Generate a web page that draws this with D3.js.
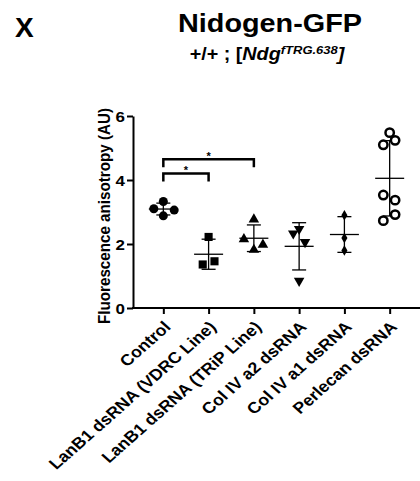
<!DOCTYPE html>
<html>
<head>
<meta charset="utf-8">
<script src="https://cdn.jsdelivr.net/npm/d3@7.9.0/dist/d3.min.js"></script>
<style>
  body { margin: 0; background: #fff; }
  svg { display: block; font-family: "Liberation Sans", Arial, sans-serif; }
</style>
</head>
<body>
<svg id="chart" width="420" height="481"></svg>
<script>
const categories = ['Control', 'LanB1 dsRNA (VDRC Line)', 'LanB1 dsRNA (TRiP Line)',
  'Col IV a2 dsRNA', 'Col IV a1 dsRNA', 'Perlecan dsRNA'];

const control = [3.10, 3.33, 3.06, 2.88];
const lanVdrc = [2.22, 1.36, 1.46];
const lanTrip = [2.77, 2.15, 1.98, 1.82];
const colA2 = [2.47, 2.33, 2.06, 0.85];
const colA1 = [2.90, 2.19, 1.80];
const perlecan = [5.48, 5.10, 5.24, 3.53, 3.37, 2.73, 2.92];

// small horizontal jitter of each point, in units of the category step
const jitter = [
  [-0.21, 0, 0.24, 0],
  [0, -0.13, 0.13],
  [0, -0.22, 0.2, 0],
  [0, -0.13, 0.13, 0],
  [0, 0, 0],
  [0, -0.14, 0.12, -0.14, 0.12, -0.14, 0.12]
];

const series = [control, lanVdrc, lanTrip, colA2, colA1, perlecan];
const symbols = ['circle', 'square', 'triangle', 'triangleDown', 'diamond', 'openCircle'];

const yTicks = [0, 2, 4, 6];
const brackets = [
  { from: 0, to: 1, level: 4.2, label: '*' },
  { from: 0, to: 2, level: 4.65, label: '*' }
];

// the figure is a little wider than tall, text is stretched the same way
const sx = 1.13;
const font = '"Liberation Sans", Arial, sans-serif';

const svg = d3.select('#chart');

const x = d3.scalePoint().domain(categories).range([133, 420]).padding(0.67);
const y = d3.scaleLinear().domain([0, 6]).range([308, 116]);

// titles
svg.append('text').attr('x', 15).attr('y', 37)
  .attr('font-size', 28).attr('font-weight', 'bold').text('X');

svg.append('text').attr('transform', `translate(270,32) scale(${sx},1)`)
  .attr('text-anchor', 'middle')
  .attr('font-size', 25.5).attr('font-weight', 'bold').text('Nidogen-GFP');

const sub = svg.append('text').attr('transform', `translate(267,60) scale(${sx},1)`)
  .attr('text-anchor', 'middle')
  .attr('font-size', 17.5).attr('font-weight', 'bold');
sub.append('tspan').text('+/+ ; [');
sub.append('tspan').attr('font-style', 'italic').text('Ndg');
sub.append('tspan').attr('font-style', 'italic').attr('font-size', 11.5).attr('dy', -6.5).text('fTRG.638');
sub.append('tspan').attr('font-style', 'italic').attr('dy', 6.5).text(']');

// axes
const yAxis = svg.append('g').attr('transform', 'translate(133,0)')
  .call(d3.axisLeft(y).tickValues(yTicks).tickFormat(d3.format('d'))
    .tickSize(6).tickSizeOuter(0));
yAxis.selectAll('text')
  .attr('x', null).attr('dy', null)
  .attr('transform', `translate(-8,5.5) scale(${sx},1)`)
  .attr('font-size', 15).attr('font-weight', 'bold').attr('fill', '#000')
  .attr('font-family', font);

const xAxis = svg.append('g').attr('transform', 'translate(0,308)')
  .call(d3.axisBottom(x).tickSize(6).tickSizeOuter(0).tickFormat(''));

svg.selectAll('.domain, .tick line').attr('stroke', '#000').attr('stroke-width', 2);
xAxis.select('.domain').attr('d', 'M132,0H420');

xAxis.selectAll('.tick').append('text')
  .attr('transform', `translate(8,20) scale(${sx},1) rotate(-45)`)
  .attr('text-anchor', 'end')
  .attr('font-size', 15.8).attr('font-weight', 'bold').attr('fill', '#000')
  .attr('font-family', font)
  .text(d => d);

svg.append('text')
  .attr('transform', `translate(110,${(y(0) + y(6)) / 2 + 4}) scale(${sx},1) rotate(-90)`)
  .attr('text-anchor', 'middle').attr('font-size', 15.2).attr('font-weight', 'bold')
  .text('Fluorescence anisotropy (AU)');

// mean and SD
const step = x.step();
series.forEach((vals, i) => {
  const cx = x(categories[i]);
  const m = d3.mean(vals), s = d3.deviation(vals);
  const g = svg.append('g').attr('stroke', '#000').attr('stroke-width', 1.3);
  g.append('line').attr('x1', cx).attr('x2', cx).attr('y1', y(m + s)).attr('y2', y(m - s));
  g.append('line').attr('x1', cx - 14.5).attr('x2', cx + 14.5).attr('y1', y(m)).attr('y2', y(m));
  [m + s, m - s].forEach(v => {
    g.append('line').attr('x1', cx - 7).attr('x2', cx + 7).attr('y1', y(v)).attr('y2', y(v));
  });
});

// points
const symbolGen = {
  circle: d3.symbol(d3.symbolCircle, 64),
  square: d3.symbol(d3.symbolSquare, 66),
  triangle: d3.symbol(d3.symbolTriangle, 48),
  triangleDown: d3.symbol(d3.symbolTriangle, 48),
  diamond: d3.symbol(d3.symbolDiamond, 32),
  openCircle: d3.symbol(d3.symbolCircle, 55)
};

series.forEach((vals, i) => {
  const kind = symbols[i];
  svg.append('g').selectAll('path').data(vals).join('path')
    .attr('d', symbolGen[kind]())
    .attr('transform', (d, j) => {
      const px = x(categories[i]) + jitter[i][j] * step;
      return `translate(${px},${y(d)})` + (kind === 'triangleDown' ? ' rotate(180)' : '');
    })
    .attr('fill', kind === 'openCircle' ? '#fff' : '#000')
    .attr('stroke', '#000')
    .attr('stroke-width', kind === 'openCircle' ? 2.5 : 0);
});

// significance brackets
brackets.forEach(b => {
  const x1 = x(categories[b.from]), x2 = x(categories[b.to]);
  const yy = y(b.level);
  svg.append('path')
    .attr('d', `M${x1},${yy + 8}V${yy}H${x2}V${yy + 8}`)
    .attr('fill', 'none').attr('stroke', '#000').attr('stroke-width', 2.5);
  svg.append('text').attr('x', (x1 + x2) / 2).attr('y', yy + 0.5)
    .attr('text-anchor', 'middle').attr('font-size', 11).attr('font-weight', 'bold')
    .text(b.label);
});
</script>
</body>
</html>
